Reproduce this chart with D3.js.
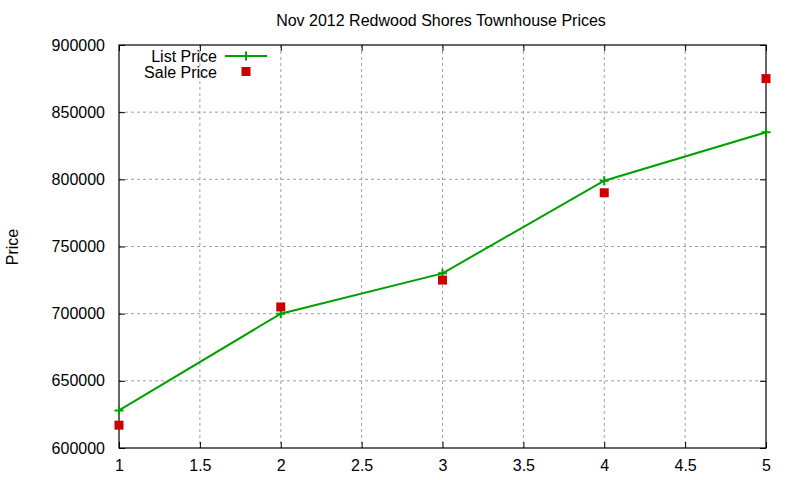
<!DOCTYPE html>
<html>
<head>
<meta charset="utf-8">
<script src="https://cdn.jsdelivr.net/npm/d3@7"></script>
<style>
  body { margin: 0; background: #fff; }
  text { font-family: "Liberation Sans", Arial, sans-serif; fill: #000; }
</style>
</head>
<body>
<div id="chart"></div>
<script>
// data
const months = [1, 2, 3, 4, 5];
const listPrice = [628000, 700000, 730000, 799000, 835000];
const salePrice = [617000, 705000, 725000, 790000, 875000];
const xTicks = [1, 1.5, 2, 2.5, 3, 3.5, 4, 4.5, 5];
const yTicks = [600000, 650000, 700000, 750000, 800000, 850000, 900000];
const seriesNames = ['List Price', 'Sale Price'];

const width = 800, height = 480;
const margin = { top: 45, right: 34, bottom: 32, left: 119 };
const w = width - margin.left - margin.right;
const h = height - margin.top - margin.bottom;

const svg = d3.select('#chart')
  .append('svg')
    .attr('width', width)
    .attr('height', height);

const g = svg.append('g')
    .attr('transform', `translate(${margin.left},${margin.top})`);

const x = d3.scaleLinear().domain([1, 5]).range([0, w]);
const y = d3.scaleLinear().domain([600000, 900000]).range([h, 0]);

// grid
g.append('g').selectAll('line')
  .data(xTicks.slice(1, -1))
  .enter().append('line')
    .attr('x1', d => x(d)).attr('x2', d => x(d))
    .attr('y1', 0).attr('y2', h)
    .attr('stroke', '#a0a0a0').attr('stroke-dasharray', '3,3');

g.append('g').selectAll('line')
  .data(yTicks.slice(1, -1))
  .enter().append('line')
    .attr('x1', 0).attr('x2', w)
    .attr('y1', d => y(d)).attr('y2', d => y(d))
    .attr('stroke', '#a0a0a0').attr('stroke-dasharray', '3,3');

// axes with inward ticks, mirrored on top and right
const fmt = d3.format('');
const xAxis = g.append('g')
    .attr('transform', `translate(0,${h})`)
    .call(d3.axisBottom(x).tickValues(xTicks).tickSize(-6).tickPadding(14).tickFormat(fmt));
const xAxisTop = g.append('g')
    .call(d3.axisTop(x).tickValues(xTicks).tickSize(-6).tickFormat(''));
const yAxis = g.append('g')
    .call(d3.axisLeft(y).tickValues(yTicks).tickSize(-6).tickPadding(14).tickFormat(fmt));
const yAxisRight = g.append('g')
    .attr('transform', `translate(${w},0)`)
    .call(d3.axisRight(y).tickValues(yTicks).tickSize(-6).tickFormat(''));

[xAxis, xAxisTop, yAxis, yAxisRight].forEach(a => {
  a.select('.domain').remove();
  a.selectAll('line').attr('stroke', '#000');
  a.selectAll('text')
    .style('font-family', '"Liberation Sans", Arial, sans-serif')
    .style('font-size', '16px')
    .attr('fill', '#000');
});
xAxis.selectAll('text').attr('dy', '0.55em');

// border
g.append('rect')
    .attr('width', w).attr('height', h)
    .attr('fill', 'none').attr('stroke', '#000').attr('stroke-width', 1.2);

const green = '#00a000';
const red = '#cc0000';
const listPts = months.map((m, i) => ({ m: m, v: listPrice[i] }));
const salePts = months.map((m, i) => ({ m: m, v: salePrice[i] }));

// list price line with + markers
g.append('path')
    .datum(listPts)
    .attr('d', d3.line().x(d => x(d.m)).y(d => y(d.v)))
    .attr('fill', 'none')
    .attr('stroke', green)
    .attr('stroke-width', 2);

g.selectAll('.plus')
  .data(listPts)
  .enter().append('path')
    .attr('class', 'plus')
    .attr('d', 'M-4.5,0H4.5M0,-4.5V4.5')
    .attr('transform', d => `translate(${x(d.m)},${y(d.v)})`)
    .attr('stroke', green).attr('stroke-width', 2);

// sale price squares
g.selectAll('.sale')
  .data(salePts)
  .enter().append('rect')
    .attr('class', 'sale')
    .attr('x', d => x(d.m) - 4.5)
    .attr('y', d => y(d.v) - 4.5)
    .attr('width', 9).attr('height', 9)
    .attr('fill', red);

// legend
const legend = svg.append('g').attr('transform', 'translate(217,56)');
legend.append('text')
    .attr('x', 0).attr('y', 0).attr('dy', '0.35em')
    .attr('text-anchor', 'end').style('font-size', '16px')
    .text(seriesNames[0]);
legend.append('line')
    .attr('x1', 8).attr('x2', 50).attr('y1', 0).attr('y2', 0)
    .attr('stroke', green).attr('stroke-width', 2);
legend.append('path')
    .attr('d', 'M24.5,0H33.5M29,-4.5V4.5')
    .attr('stroke', green).attr('stroke-width', 2);
legend.append('text')
    .attr('x', 0).attr('y', 16).attr('dy', '0.35em')
    .attr('text-anchor', 'end').style('font-size', '16px')
    .text(seriesNames[1]);
legend.append('rect')
    .attr('x', 24.5).attr('y', 11).attr('width', 9).attr('height', 9)
    .attr('fill', red);

// title and axis label
svg.append('text')
    .attr('x', 441).attr('y', 26)
    .attr('text-anchor', 'middle').style('font-size', '16px')
    .text('Nov 2012 Redwood Shores Townhouse Prices');

svg.append('text')
    .attr('transform', 'translate(18,247) rotate(-90)')
    .attr('text-anchor', 'middle').style('font-size', '16px')
    .text('Price');
</script>
</body>
</html>
